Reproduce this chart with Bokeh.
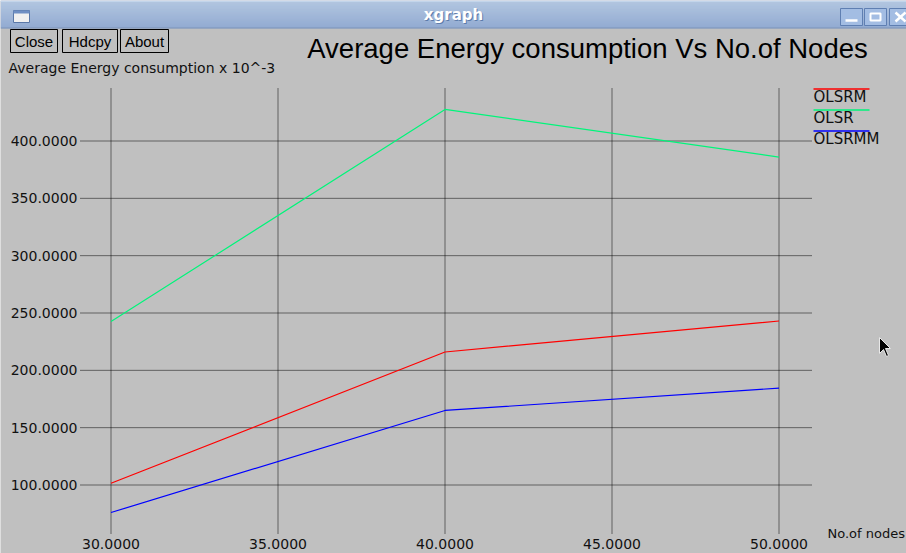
from bokeh.plotting import figure
from bokeh.models import Range1d
from bokeh.core.properties import value
from bokeh.embed import file_html
from bokeh.resources import INLINE

# ---- data -------------------------------------------------------------
nodes = [30, 40, 50]
olsrm = [101.5, 216.0, 243.0]
olsr = [242.5, 427.5, 386.0]
olsrmm = [76.0, 165.0, 184.5]
series_names = ["OLSRM", "OLSR", "OLSRMM"]
series_colors = ["#ff0000", "#00f57a", "#0000ff"]
x_ticks = [30, 35, 40, 45, 50]
y_ticks = [100, 150, 200, 250, 300, 350, 400]

title_text = "Average Energy consumption Vs No.of Nodes"
y_title = "Average Energy consumption x 10^-3"
x_title = "No.of nodes"

W, H = 906, 553
BG = "#c0c0c0"

# pixel <-> data mapping of the xgraph drawing area
PX0, X0, PX_PER_X = 110.5, 30.0, (778.0 - 110.0) / 20.0
PY0, Y0, PX_PER_Y = 484.5, 100.0, 344.0 / 300.0


def dx(px):
    return X0 + (px - PX0) / PX_PER_X


def dy(py):
    return Y0 + (PY0 - py) / PX_PER_Y


p = figure(width=W, height=H, output_backend="svg", toolbar_location=None,
           x_range=Range1d(dx(0), dx(W)), y_range=Range1d(dy(H), dy(0)),
           min_border=0, background_fill_color=BG, border_fill_color=BG,
           outline_line_color=None)
p.axis.visible = False
p.grid.visible = False

FONT = value("DejaVu Sans")

# ---- grid -------------------------------------------------------------
p.segment(x0=[dx(80)] * len(y_ticks), x1=[dx(812)] * len(y_ticks),
          y0=y_ticks, y1=y_ticks, line_color="#000000", line_width=1,
          line_dash="1 1")
p.segment(x0=x_ticks, x1=x_ticks, y0=[dy(88)] * len(x_ticks),
          y1=[dy(533)] * len(x_ticks), line_color="#000000", line_width=1,
          line_dash="1 1")

# tick labels
p.text(x=[dx(77)] * len(y_ticks), y=y_ticks,
       text=["%.4f" % v for v in y_ticks], text_font=FONT,
       text_font_size="14px", text_align="right", text_baseline="middle",
       text_color="#111111")
p.text(x=x_ticks, y=[dy(543.5)] * len(x_ticks),
       text=["%.4f" % v for v in x_ticks], text_font=FONT,
       text_font_size="14px", text_align="center", text_baseline="middle",
       text_color="#111111")

# axis titles
p.text(x=[dx(8)], y=[dy(67)], text=[y_title], text_font=FONT,
       text_font_size="14px", text_align="left", text_baseline="middle",
       text_color="#111111")
p.text(x=[dx(827)], y=[dy(533)], text=[x_title], text_font=FONT,
       text_font_size="13px", text_align="left", text_baseline="middle",
       text_color="#111111")

# ---- series -----------------------------------------------------------
for ys, c in zip([olsrm, olsr, olsrmm], series_colors):
    p.line(nodes, ys, line_color=c, line_width=1.2)

# legend: coloured bar above each name
for i, (name, c) in enumerate(zip(series_names, series_colors)):
    ly = 88.5 + 21 * i
    p.segment(x0=[dx(813)], x1=[dx(869)], y0=[dy(ly)], y1=[dy(ly)],
              line_color=c, line_width=1.5)
    p.text(x=[dx(813)], y=[dy(ly + 8)], text=[name], text_font=FONT,
           text_font_size="15px", text_align="left", text_baseline="middle",
           text_color="#111111")

# ---- window chrome ----------------------------------------------------
p.text(x=[dx(587)], y=[dy(48)], text=[title_text],
       text_font=value("Liberation Sans"), text_font_size="27.5px",
       text_align="center", text_baseline="middle", text_color="#000000")

# buttons
for label, l, r in [("Close", 10, 57), ("Hdcpy", 62, 117), ("About", 120, 168)]:
    p.quad(left=[dx(l)], right=[dx(r)], top=[dy(29)], bottom=[dy(52)],
           fill_color=BG, line_color="#000000", line_width=1)
    p.text(x=[dx((l + r) / 2)], y=[dy(40.5)], text=[label],
           text_font=value("Liberation Sans"), text_font_size="15px",
           text_align="center", text_baseline="middle", text_color="#000000")

# title bar gradient
top_rgb = (0xae, 0xc8, 0xeb)
bot_rgb = (0x84, 0xa5, 0xd8)
n = 27
for i in range(n):
    t = i / (n - 1)
    rgb = tuple(int(round(a + (b - a) * t)) for a, b in zip(top_rgb, bot_rgb))
    p.quad(left=[dx(0)], right=[dx(W)], top=[dy(i)], bottom=[dy(i + 1)],
           fill_color="#%02x%02x%02x" % rgb, line_color=None)
p.quad(left=[dx(0)], right=[dx(W)], top=[dy(0)], bottom=[dy(1)],
       fill_color="#d6e3f5", line_color=None)
p.quad(left=[dx(0)], right=[dx(W)], top=[dy(27)], bottom=[dy(28)],
       fill_color="#6d8cbd", line_color=None)

# window menu icon
p.quad(left=[dx(13)], right=[dx(29)], top=[dy(10)], bottom=[dy(22)],
       fill_color="#f0f0f0", line_color="#5a78a8", line_width=1)
p.quad(left=[dx(13)], right=[dx(29)], top=[dy(10)], bottom=[dy(13)],
       fill_color="#6f8fc4", line_color=None)

# title text with a soft shadow
p.text(x=[dx(454)], y=[dy(15)], text=["xgraph"], text_font=FONT,
       text_font_size="15px", text_font_style="bold", text_align="center",
       text_baseline="middle", text_color="#5d7cab")
p.text(x=[dx(453)], y=[dy(14)], text=["xgraph"], text_font=FONT,
       text_font_size="15px", text_font_style="bold", text_align="center",
       text_baseline="middle", text_color="#ffffff")

# minimise / maximise / close boxes
for l, r in [(840, 862), (864, 886), (889, 911)]:
    p.quad(left=[dx(l)], right=[dx(r)], top=[dy(8)], bottom=[dy(25)],
           fill_color="#a3bde3", line_color="#5f7fb2", line_width=1)
p.segment(x0=[dx(845)], x1=[dx(857)], y0=[dy(20)], y1=[dy(20)],
          line_color="#ffffff", line_width=2.5)
p.quad(left=[dx(870)], right=[dx(880)], top=[dy(13)], bottom=[dy(20)],
       fill_color=None, line_color="#ffffff", line_width=2)
p.segment(x0=[dx(895), dx(895)], x1=[dx(905), dx(905)],
          y0=[dy(12), dy(21)], y1=[dy(21), dy(12)],
          line_color="#ffffff", line_width=2.5)

# mouse pointer
cx, cy = 879, 337
arrow = [(0, 0), (0, 16), (4, 12), (7, 19), (9, 18), (6, 11), (11, 11)]
p.patch([dx(cx + a) for a, _ in arrow], [dy(cy + b) for _, b in arrow],
        fill_color="#000000", line_color="#e8e8e8", line_width=1)

open("out.html", "w").write(file_html(p, INLINE))
